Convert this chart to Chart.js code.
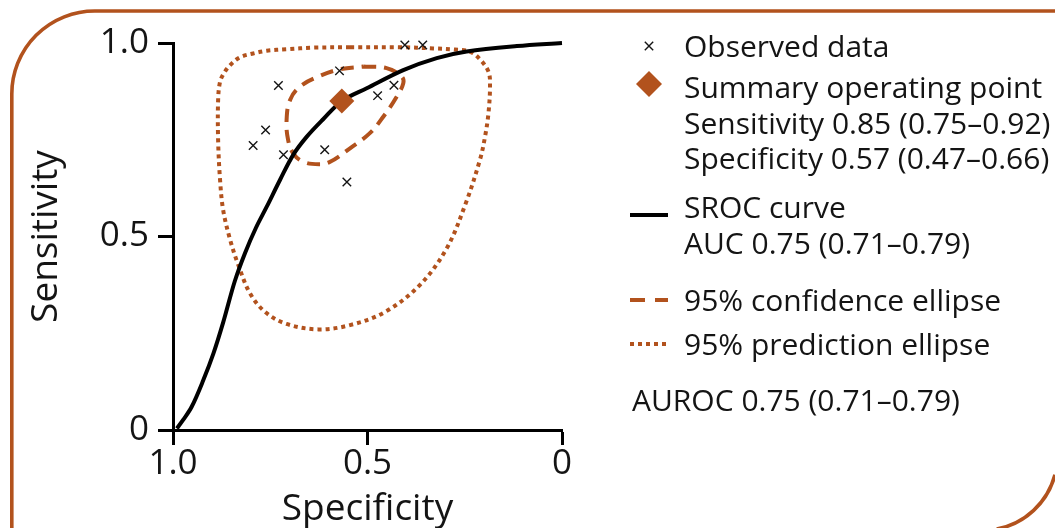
<!DOCTYPE html>
<html>
<head>
<meta charset="utf-8">
<script src="https://cdn.jsdelivr.net/npm/chart.js@4.4.0/dist/chart.umd.min.js"></script>
<style>
html,body{margin:0;padding:0;background:#fff;overflow:hidden}
#wrap{width:1055px;height:528px;position:relative}
</style>
</head>
<body>
<div id="wrap"><canvas id="c" width="1055" height="528"></canvas></div>
<script>
// ---------- data (specificity = x, sensitivity = y) ----------
const observedSpec = [0.404, 0.358, 0.572, 0.729, 0.432, 0.474, 0.762, 0.794, 0.716, 0.610, 0.553];
const observedSens = [0.995, 0.995, 0.928, 0.890, 0.891, 0.864, 0.775, 0.735, 0.711, 0.724, 0.641];

const summarySpec = [0.566];
const summarySens = [0.85];

const srocSpec = [0.990, 0.974, 0.952, 0.922, 0.896, 0.871, 0.841, 0.815, 0.787, 0.759, 0.725, 0.691, 0.656, 0.614, 0.566, 0.502, 0.408, 0.322, 0.245, 0.116, 0.0];
const srocSens = [0.004, 0.026, 0.060, 0.129, 0.198, 0.278, 0.385, 0.457, 0.522, 0.577, 0.646, 0.711, 0.758, 0.803, 0.850, 0.883, 0.930, 0.961, 0.978, 0.992, 1.0];

const confSpec = [0.511, 0.451, 0.412, 0.408, 0.425, 0.459, 0.494, 0.545, 0.596, 0.622, 0.665, 0.691, 0.704, 0.708, 0.699, 0.674, 0.627, 0.571, 0.511];
const confSens = [0.939, 0.935, 0.913, 0.896, 0.861, 0.810, 0.767, 0.728, 0.693, 0.687, 0.693, 0.715, 0.749, 0.801, 0.853, 0.887, 0.913, 0.932, 0.939];

const predSpec = [0.545, 0.416, 0.331, 0.275, 0.237, 0.211, 0.189, 0.185, 0.189, 0.198, 0.211, 0.247, 0.296, 0.365, 0.455, 0.545, 0.626, 0.708, 0.763, 0.802, 0.832, 0.853, 0.871, 0.879, 0.884, 0.884, 0.879, 0.869, 0.853, 0.828, 0.794, 0.759, 0.708, 0.639, 0.545];
const predSens = [0.989, 0.989, 0.986, 0.983, 0.978, 0.958, 0.926, 0.891, 0.819, 0.757, 0.698, 0.587, 0.470, 0.375, 0.305, 0.271, 0.260, 0.274, 0.305, 0.353, 0.426, 0.491, 0.568, 0.646, 0.749, 0.853, 0.900, 0.922, 0.943, 0.963, 0.973, 0.980, 0.984, 0.988, 0.989];

const tickValues = [0, 0.5, 1];
const tickLabels = ['0', '0.5', '1.0'];

const xTitle = 'Specificity';
const yTitle = 'Sensitivity';

const legendObserved = ['Observed data'];
const legendSummary = ['Summary operating point', 'Sensitivity 0.85 (0.75\u20130.92)', 'Specificity 0.57 (0.47\u20130.66)'];
const legendSroc = ['SROC curve', 'AUC 0.75 (0.71\u20130.79)'];
const legendConf = ['95% confidence ellipse'];
const legendPred = ['95% prediction ellipse'];
const footnote = 'AUROC 0.75 (0.71\u20130.79)';

// ---------- styling ----------
const BROWN = '#b2521d';
const INK = '#141414';
const FONT = '"Open Sans", sans-serif';

const zip = (xs, ys) => xs.map((x, i) => ({x: x, y: ys[i]}));

const framePlugin = {
  id: 'frame',
  beforeDraw(chart) {
    const ctx = chart.ctx;
    ctx.save();
    ctx.fillStyle = '#fff';
    ctx.fillRect(0, 0, chart.width, chart.height);
    ctx.strokeStyle = BROWN;
    ctx.lineWidth = 3.6;
    const L = 11.8, T = 11, R = 1057.5, B = 530.5, r1 = 83, r2 = 75;
    ctx.beginPath();
    ctx.moveTo(L, B + 20);
    ctx.lineTo(L, T + r1);
    ctx.arcTo(L, T, L + r1, T, r1);
    ctx.lineTo(R + 20, T);
    ctx.stroke();
    ctx.beginPath();
    ctx.arc(R - r2, B - r2, r2, 0.26, 1.38);
    ctx.stroke();
    ctx.restore();
  }
};

const legendPlugin = {
  id: 'legendText',
  afterDraw(chart) {
    const ctx = chart.ctx;
    ctx.save();
    ctx.font = '30px ' + FONT;
    ctx.fillStyle = INK;
    ctx.textAlign = 'left';
    ctx.textBaseline = 'alphabetic';
    const tx = 684;
    const blocks = [
      [legendObserved, [57]],
      [legendSummary, [98, 134, 169]],
      [legendSroc, [218, 254]],
      [legendConf, [311]],
      [legendPred, [355]]
    ];
    blocks.forEach(([lines, ys]) => lines.forEach((t, i) => ctx.fillText(t, tx, ys[i])));
    ctx.fillText(footnote, 632, 411);

    // cross
    ctx.strokeStyle = INK;
    ctx.lineWidth = 1.4;
    const cx = 649, cy = 46, h = 4.2;
    ctx.beginPath();
    ctx.moveTo(cx - h, cy - h); ctx.lineTo(cx + h, cy + h);
    ctx.moveTo(cx + h, cy - h); ctx.lineTo(cx - h, cy + h);
    ctx.stroke();
    // diamond
    ctx.fillStyle = BROWN;
    const dx = 649, dy = 84, d = 13;
    ctx.beginPath();
    ctx.moveTo(dx - d, dy); ctx.lineTo(dx, dy - d); ctx.lineTo(dx + d, dy); ctx.lineTo(dx, dy + d);
    ctx.closePath(); ctx.fill();
    // solid line
    ctx.strokeStyle = '#000';
    ctx.lineWidth = 4;
    ctx.beginPath(); ctx.moveTo(630, 215); ctx.lineTo(668, 215); ctx.stroke();
    // dashed
    ctx.strokeStyle = BROWN;
    ctx.beginPath(); ctx.moveTo(630, 300); ctx.lineTo(645, 300); ctx.moveTo(655, 300); ctx.lineTo(668, 300); ctx.stroke();
    // dotted
    ctx.setLineDash([4, 4]);
    ctx.beginPath(); ctx.moveTo(630, 344); ctx.lineTo(666, 344); ctx.stroke();
    ctx.restore();
  }
};

const axisCommon = {
  type: 'linear',
  min: 0,
  max: 1,
  afterBuildTicks: s => { s.ticks = tickValues.map(v => ({value: v})); },
  grid: {display: true, drawOnChartArea: false, drawTicks: true, tickLength: 15, tickWidth: 3, tickColor: '#000'},
  border: {display: true, color: '#000', width: 3}
};

new Chart(document.getElementById('c'), {
  type: 'scatter',
  data: {
    datasets: [
      {
        label: 'Summary operating point',
        data: zip(summarySpec, summarySens),
        pointStyle: 'rectRot', pointRadius: 12.5, pointHoverRadius: 12.5,
        backgroundColor: BROWN, borderColor: BROWN, borderWidth: 0,
        order: 0, clip: false
      },
      {
        label: 'Observed data',
        data: zip(observedSpec, observedSens),
        pointStyle: 'crossRot', pointRadius: 6, pointHoverRadius: 6,
        borderColor: INK, backgroundColor: INK, borderWidth: 1.4,
        order: 1, clip: false
      },
      {
        label: 'SROC curve',
        data: zip(srocSpec, srocSens),
        showLine: true, pointRadius: 0, borderColor: '#000', borderWidth: 4,
        tension: 0.35, fill: false, order: 2, clip: false
      },
      {
        label: '95% confidence ellipse',
        data: zip(confSpec, confSens),
        showLine: true, pointRadius: 0, borderColor: BROWN, borderWidth: 4,
        borderDash: [13, 8], tension: 0.4, fill: false, order: 3, clip: false
      },
      {
        label: '95% prediction ellipse',
        data: zip(predSpec, predSens),
        showLine: true, pointRadius: 0, borderColor: BROWN, borderWidth: 4,
        borderDash: [4, 4], tension: 0.35, fill: false, order: 4, clip: false
      }
    ]
  },
  options: {
    responsive: false,
    devicePixelRatio: 1,
    animation: false,
    events: [],
    layout: {padding: {left: 0, top: 43, right: 493, bottom: 0}},
    plugins: {legend: {display: false}, tooltip: {enabled: false}},
    scales: {
      x: Object.assign({}, axisCommon, {
        reverse: true,
        position: 'bottom',
        afterFit: s => { s.height = 98; },
        ticks: {
          callback: (v) => tickLabels[tickValues.indexOf(v)],
          font: {family: FONT, size: 35, lineHeight: 1.1}, color: INK, padding: 0,
          maxRotation: 0, autoSkip: false
        },
        title: {display: true, text: xTitle, font: {family: FONT, size: 37}, color: INK, padding: {top: 0, bottom: -4}}
      }),
      y: Object.assign({}, axisCommon, {
        position: 'left',
        afterFit: s => { s.width = 173; },
        ticks: {
          callback: (v) => tickLabels[tickValues.indexOf(v)],
          font: {family: FONT, size: 35}, color: INK, padding: 9, autoSkip: false
        },
        title: {display: true, text: yTitle, font: {family: FONT, size: 37}, color: INK, padding: {top: 24, bottom: 0}}
      })
    }
  },
  plugins: [framePlugin, legendPlugin]
});
</script>
</body>
</html>
